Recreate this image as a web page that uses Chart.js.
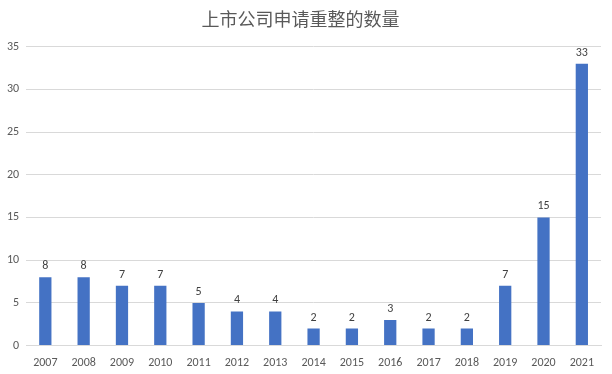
<!DOCTYPE html>
<html>
<head>
<meta charset="utf-8">
<script src="https://cdn.jsdelivr.net/npm/chart.js@4/dist/chart.umd.min.js"></script>
<style>
  html, body { margin: 0; padding: 0; background: #fff; }
  #wrap { width: 612px; height: 374px; }
</style>
</head>
<body>
<div id="wrap"><canvas id="c" width="612" height="374"></canvas></div>
<script>
const years = ['2007','2008','2009','2010','2011','2012','2013','2014','2015','2016','2017','2018','2019','2020','2021'];
const counts = [8, 8, 7, 7, 5, 4, 4, 2, 2, 3, 2, 2, 7, 15, 33];
const yTicks = [0, 5, 10, 15, 20, 25, 30, 35];

const textColor = '#595959';
const fontFamily = "Carlito, 'Open Sans', 'Noto Sans CJK SC', sans-serif";

// simple value labels above each bar
const barLabels = {
  id: 'barLabels',
  afterDatasetsDraw(chart) {
    const ctx = chart.ctx;
    const meta = chart.getDatasetMeta(0);
    ctx.save();
    ctx.fillStyle = '#404040';
    ctx.font = "12px " + fontFamily;
    ctx.textAlign = 'center';
    ctx.textBaseline = 'bottom';
    meta.data.forEach((bar, i) => {
      ctx.fillText(String(counts[i]), bar.x, bar.y - 5);
    });
    ctx.restore();
  }
};

new Chart(document.getElementById('c'), {
  type: 'bar',
  data: {
    labels: years,
    datasets: [{
      data: counts,
      backgroundColor: '#4472C4',
      barPercentage: 0.32,
      categoryPercentage: 1.0
    }]
  },
  options: {
    responsive: false,
    animation: false,
    devicePixelRatio: 1,
    layout: { padding: { left: 0, right: 11, top: 4, bottom: 2 } },
    plugins: {
      legend: { display: false },
      tooltip: { enabled: false },
      title: {
        display: true,
        text: '上市公司申请重整的数量',
        color: textColor,
        font: { size: 18, family: "'Noto Sans CJK SC', sans-serif", weight: 'normal' },
        padding: { top: 4, bottom: 17 }
      }
    },
    scales: {
      x: {
        grid: { display: false },
        border: { color: '#d9d9d9' },
        ticks: { color: textColor, font: { size: 12, family: fontFamily }, maxRotation: 0, padding: 2 }
      },
      y: {
        min: 0,
        max: 35,
        afterBuildTicks(axis) { axis.ticks = yTicks.map(v => ({ value: v })); },
        grid: { color: '#d9d9d9', drawTicks: false },
        border: { display: false },
        ticks: { color: textColor, font: { size: 12, family: fontFamily }, padding: 7 }
      }
    }
  },
  plugins: [barLabels]
});
</script>
</body>
</html>
